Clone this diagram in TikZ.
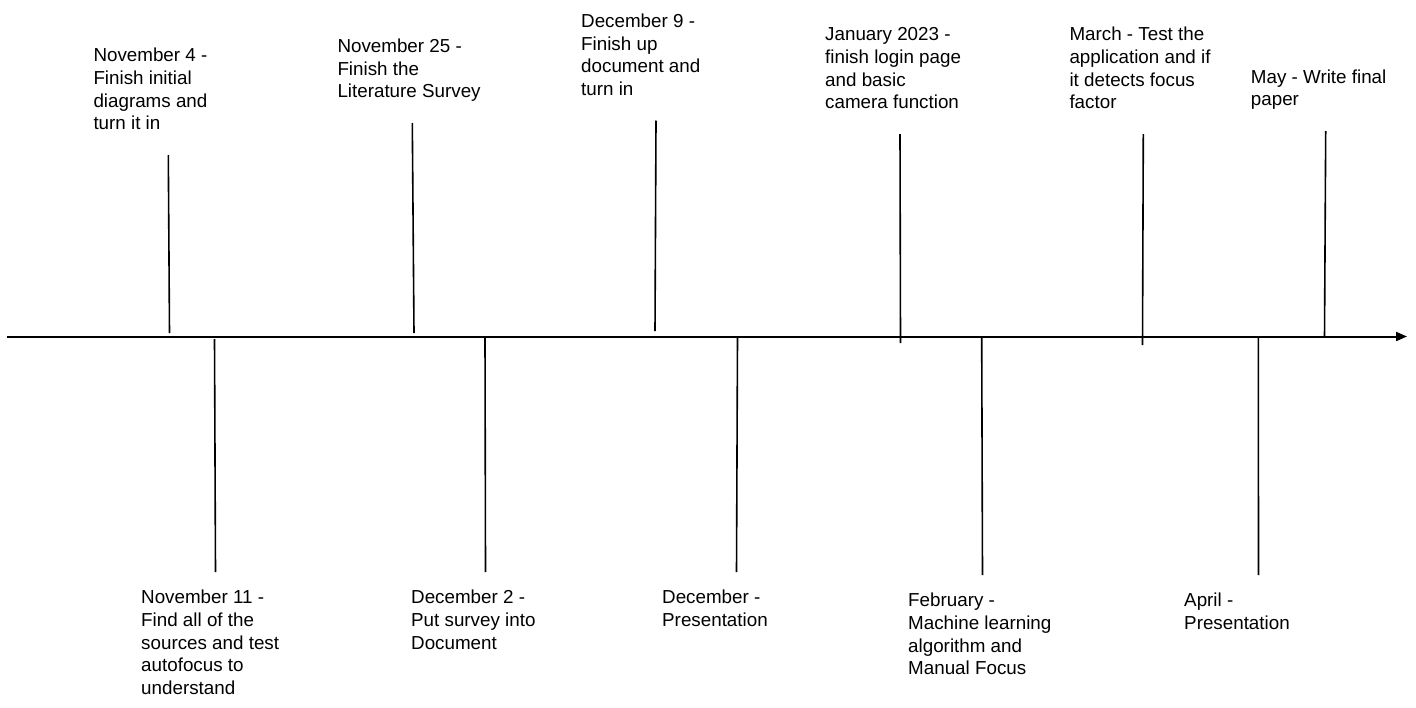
\documentclass[tikz,border=0pt]{standalone}
\usepackage{fontspec}
\setmainfont{Liberation Sans}
\usetikzlibrary{positioning,arrows.meta}

\tikzstyle{axis}=[line width=2pt, -{Triangle[length=11pt, width=9pt]}]
\tikzstyle{tick}=[line width=1.6pt]
\tikzstyle{evtext}=[inner sep=0pt, align=left, font=\fontsize{18.8}{22.7}\selectfont,
execute at begin node=\strut, execute at end node=\strut]

\begin{document}
\begin{tikzpicture}[x=1pt, y=-1pt]

    \useasboundingbox (0,0) rectangle (1416,707);

% time axis
    \coordinate (axl) at (7,336.5);
    \coordinate (axr) at (1407,336.5);
    \draw[axis] (axl) -- (axr);

% ticks above the axis
    \coordinate (nov4top) at (168.3,155);   \coordinate (nov4bot) at (169.5,333);
    \coordinate (nov25top) at (412.3,123);  \coordinate (nov25bot) at (414,333);
    \coordinate (dec9top) at (656,120.5);   \coordinate (dec9bot) at (655,331);
    \coordinate (jantop) at (900,134);      \coordinate (janbot) at (900.5,343);
    \coordinate (martop) at (1143.3,134);   \coordinate (marbot) at (1142.5,345);
    \coordinate (maytop) at (1325.7,131);   \coordinate (maybot) at (1324.5,337);

% ticks below the axis
    \coordinate (nov11top) at (214.5,339);  \coordinate (nov11bot) at (215.5,572);
    \coordinate (dec2top) at (485,337);     \coordinate (dec2bot) at (485.5,572);
    \coordinate (dectop) at (737.5,337);    \coordinate (decbot) at (736.5,572);
    \coordinate (febtop) at (981.7,337);    \coordinate (febbot) at (982.5,575);
    \coordinate (aprtop) at (1258.3,337);   \coordinate (aprbot) at (1258.5,575);

    \draw[tick] (nov4top) -- (nov4bot);
    \draw[tick] (nov25top) -- (nov25bot);
    \draw[tick] (dec9top) -- (dec9bot);
    \draw[tick] (jantop) -- (janbot);
    \draw[tick] (martop) -- (marbot);
    \draw[tick] (maytop) -- (maybot);

    \draw[tick] (nov11top) -- (nov11bot);
    \draw[tick] (dec2top) -- (dec2bot);
    \draw[tick] (dectop) -- (decbot);
    \draw[tick] (febtop) -- (febbot);
    \draw[tick] (aprtop) -- (aprbot);

% upper events
    \node (nov4) [evtext, above right=18pt and -75pt of nov4top] {November 4 -\\Finish initial\\diagrams and\\turn it in};
    \node (nov25) [evtext, above right=18pt and -75pt of nov25top] {November 25 -\\Finish the\\Literature Survey};
    \node (dec9) [evtext, above right=18pt and -75pt of dec9top] {December 9 -\\Finish up\\document and\\turn in};
    \node (jan) [evtext, above right=18pt and -75pt of jantop] {January 2023 -\\finish login page\\and basic\\camera function};
    \node (mar) [evtext, above right=18pt and -74pt of martop] {March - Test the\\application and if\\it detects focus\\factor};
    \node (may) [evtext, above right=18pt and -75pt of maytop] {May - Write final\\paper};

% lower events
    \node (nov11) [evtext, below right=18pt and -74.5pt of nov11bot] {November 11 -\\Find all of the\\sources and test\\autofocus to\\understand};
    \node (dec2) [evtext, below right=18pt and -74.5pt of dec2bot] {December 2 -\\Put survey into\\Document};
    \node (dec) [evtext, below right=18pt and -74.5pt of decbot] {December -\\Presentation};
    \node (feb) [evtext, below right=18pt and -74.5pt of febbot] {February -\\Machine learning\\algorithm and\\Manual Focus};
    \node (apr) [evtext, below right=18pt and -74.5pt of aprbot] {April -\\Presentation};

\end{tikzpicture}
\end{document}
